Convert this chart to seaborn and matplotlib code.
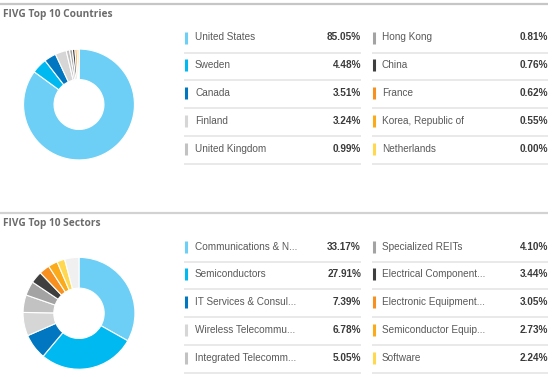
import matplotlib
matplotlib.use("Agg")
import matplotlib.pyplot as plt
import seaborn as sns

# Datos: paises
countries = ['United States', 'Sweden', 'Canada', 'Finland', 'United Kingdom',
             'Hong Kong', 'China', 'France', 'Korea, Republic of', 'Netherlands']
country_pct = [85.05, 4.48, 3.51, 3.24, 0.99, 0.81, 0.76, 0.62, 0.55, 0.00]
country_colors = ['#6dcff6', '#00b9f1', '#0077c0', '#d6d6d6', '#c2c2c2',
                  '#a3a3a3', '#3f3f3f', '#f7901e', '#fbaa19', '#ffd84f']

# Datos: sectores
sectors = ['Communications & N...', 'Semiconductors', 'IT Services & Consul...',
           'Wireless Telecommu...', 'Integrated Telecomm...', 'Specialized REITs',
           'Electrical Component...', 'Electronic Equipment...', 'Semiconductor Equip...',
           'Software']
sector_pct = [33.17, 27.91, 7.39, 6.78, 5.05, 4.10, 3.44, 3.05, 2.73, 2.24]
sector_colors = ['#6dcff6', '#00b9f1', '#0077c0', '#d6d6d6', '#c2c2c2',
                 '#a3a3a3', '#3f3f3f', '#f7901e', '#fbaa19', '#ffd84f']
other_pct = 4.14
other_color = '#f0f0f0'

sns.set_theme(style="white")
plt.rcParams['font.family'] = ['Liberation Sans', 'DejaVu Sans']

W, H = 554, 377
fig = plt.figure(figsize=(W / 100, H / 100), dpi=100)

# capa de fondo en pixeles
bg = fig.add_axes([0, 0, 1, 1])
bg.set_xlim(0, W)
bg.set_ylim(H, 0)
bg.axis('off')


def donut(cx, cy, r, values, colors):
    ax = fig.add_axes([(cx - r) / W, 1 - (cy + r) / H, 2 * r / W, 2 * r / H])
    ax.pie(values, colors=colors, startangle=90, counterclock=False,
           wedgeprops=dict(width=0.55, edgecolor='white', linewidth=0.8))
    ax.set_xlim(-1.01, 1.01)
    ax.set_ylim(-1.01, 1.01)
    ax.set_aspect('equal')
    ax.axis('off')


def section(top, title, labels, values, colors, line_col):
    bg.hlines(top + 3.5, 0, 548, color=line_col, lw=1.6)
    bg.text(3, top + 14.5, title, fontsize=7.3, fontweight='bold', color='#6b6b6b',
            va='center', ha='left', family=['Open Sans', 'DejaVu Sans'])
    for i, (lab, val, col) in enumerate(zip(labels, values, colors)):
        c = i // 5
        row = i % 5
        y = top + 37.5 + row * 27.9
        mx, tx, rx, lx0 = [(185.5, 195, 361, 184), (373.5, 382, 548, 372)][c]
        bg.vlines(mx, y - 6, y + 6, color=col, lw=2.2)
        bg.text(tx, y, lab, fontsize=7.2, color='#595959', va='center', ha='left')
        bg.text(rx, y, f'{val:.2f}%', fontsize=7.2, color='#3a3a3a',
                fontweight='bold', va='center', ha='right')
        bg.hlines(y + 15, lx0, rx, color='#e3e3e3', lw=1.1)


section(0, 'FIVG Top 10 Countries', countries, country_pct, country_colors, '#c6c6c6')
section(209, 'FIVG Top 10 Sectors', sectors, sector_pct, sector_colors, '#d2d2d2')

donut(79, 104.5, 56, country_pct, country_colors)
donut(79, 313.3, 56.5, sector_pct + [other_pct], sector_colors + [other_color])

fig.savefig('out.png', dpi=100)
